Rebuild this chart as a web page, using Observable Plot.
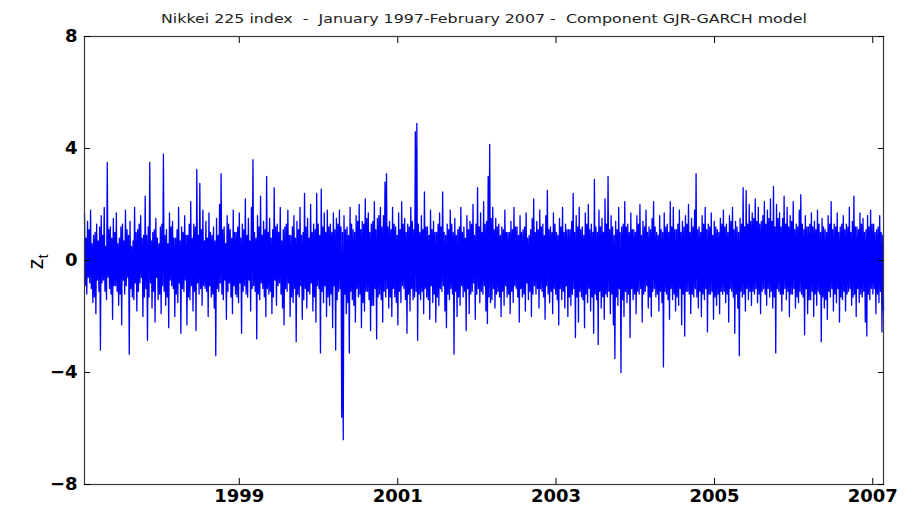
<!DOCTYPE html>
<html>
<head>
<meta charset="utf-8">
<script src="https://cdn.jsdelivr.net/npm/d3@7"></script>
<script src="https://cdn.jsdelivr.net/npm/@observablehq/plot@0.6"></script>
<style>
  html, body { margin: 0; padding: 0; background: #fff; }
  #chart { width: 906px; height: 510px; }
</style>
</head>
<body>
<div id="chart"></div>
<script>
// Title and axis text
const titleText = "Nikkei 225 index  -  January 1997-February 2007 -  Component GJR-GARCH model";
const yLabelMain = "z";
const yLabelSub = "t";

// Standardized residuals z_t: for each week (from mid-January 1997)
// the upper swing (zHigh) and the lower swing (zLow) of the series.
const startDate = "1997-01-17";
const stepDays = 7;
const zHigh = [
  1.7, 0.8, 1.4, 1.1, 1.8, 0.6, 0.9, 1.0, 1.3, 0.7, 1.2, 1.6, 0.9, 1.9, 0.5, 3.5, 1.1, 1.2, 0.8, 1.5,
  1.0, 1.7, 0.6, 0.8, 1.2, 1.3, 0.7, 1.8, 1.1, 0.9, 1.4, 0.5, 0.7, 1.9, 1.0, 1.1, 1.3, 1.6, 0.8, 0.9,
  2.3, 0.9, 1.2, 3.5, 0.7, 1.0, 1.1, 1.5, 0.8, 0.6, 1.2, 1.3, 3.8, 0.9, 1.1, 0.6, 1.7, 1.2, 1.4, 0.8,
  0.8, 1.1, 1.9, 0.7, 1.2, 1.0, 1.6, 0.9, 0.9, 1.3, 2.1, 0.8, 1.3, 1.2, 3.25, 0.9, 2.75, 1.1, 1.8, 0.7,
  1.4, 0.8, 1.7, 1.0, 0.9, 1.2, 0.7, 1.5, 0.9, 2.0, 3.1, 1.1, 1.2, 0.6, 1.6, 1.3, 1.1, 0.8, 1.8, 1.0,
  1.0, 1.2, 1.7, 0.8, 1.3, 1.1, 2.2, 0.9, 1.5, 0.7, 1.9, 3.6, 1.0, 0.8, 1.6, 1.2, 2.3, 0.9, 1.4, 1.1,
  3.0, 1.0, 1.5, 0.8, 1.1, 2.6, 1.2, 1.3, 1.0, 1.9, 0.7, 1.1, 1.2, 1.3, 1.8, 0.9, 0.9, 1.2, 1.6, 0.8,
  1.4, 1.1, 1.9, 0.9, 1.0, 2.4, 1.2, 1.5, 0.8, 2.0, 1.0, 1.3, 1.1, 2.4, 1.3, 0.9, 2.55, 1.2, 1.7, 1.0,
  1.8, 1.2, 1.3, 1.0, 1.7, 1.1, 1.5, 1.3, 1.8, 1.2, 1.0, 1.6, 1.1, 1.2, 0.9, 1.9, 1.3, 1.1, 1.0, 1.6,
  1.4, 2.0, 1.1, 1.4, 1.3, 2.2, 1.5, 1.7, 1.0, 1.3, 1.4, 2.1, 1.1, 1.5, 1.6, 1.9, 1.2, 1.6, 2.8, 3.1,
  1.2, 1.4, 1.1, 1.9, 1.3, 1.2, 0.9, 1.7, 1.1, 2.1, 1.3, 1.5, 1.0, 1.3, 1.2, 1.9, 1.4, 1.1, 4.6, 4.9,
  1.3, 1.0, 1.6, 1.1, 2.45, 1.2, 1.2, 0.9, 1.8, 1.1, 1.4, 1.0, 1.0, 1.3, 1.7, 1.2, 2.45, 1.0, 0.9, 1.3,
  1.1, 1.8, 1.3, 1.0, 1.5, 0.9, 1.1, 1.2, 1.9, 1.0, 1.2, 0.8, 1.6, 1.1, 1.4, 1.3, 2.0, 0.9, 1.3, 2.6,
  1.2, 1.7, 1.0, 2.1, 1.3, 1.4, 3.0, 4.15, 1.5, 1.9, 1.1, 1.5, 1.2, 1.3, 0.9, 1.2, 1.1, 1.8, 1.0, 1.0,
  1.0, 1.4, 1.1, 1.9, 1.2, 1.2, 0.9, 1.6, 1.0, 1.1, 1.2, 1.7, 0.8, 0.9, 1.1, 1.5, 2.2, 1.0, 1.4, 1.1,
  1.8, 1.2, 1.3, 0.9, 1.6, 2.5, 1.1, 1.2, 1.0, 1.7, 1.3, 1.0, 0.9, 1.5, 1.2, 1.9, 1.0, 1.3, 1.1, 1.1,
  1.1, 1.4, 2.4, 1.0, 1.6, 1.2, 1.9, 1.1, 1.2, 0.9, 1.7, 1.3, 2.0, 1.1, 1.3, 1.0, 2.9, 1.2, 1.0, 1.8,
  1.2, 1.5, 1.0, 2.2, 1.3, 3.0, 1.1, 1.6, 1.2, 0.9, 1.4, 1.1, 1.9, 1.0, 1.2, 1.3, 2.1, 1.2, 1.3, 1.0,
  1.7, 1.1, 1.1, 1.0, 1.6, 1.3, 2.0, 0.9, 1.4, 1.2, 1.8, 1.0, 1.2, 1.1, 1.5, 2.1, 1.2, 1.0, 0.9, 1.6,
  1.1, 1.0, 1.7, 1.2, 1.3, 1.0, 2.1, 1.2, 1.9, 1.1, 1.1, 1.3, 1.8, 1.0, 1.4, 1.2, 1.6, 1.3, 2.0, 1.0,
  1.5, 1.2, 1.8, 3.1, 1.1, 1.2, 1.0, 1.6, 1.3, 1.9, 1.1, 1.3, 1.2, 1.7, 0.9, 1.4, 1.2, 1.1, 1.0, 1.5,
  1.3, 1.8, 1.2, 1.3, 1.0, 1.6, 1.4, 1.9, 1.1, 1.4, 1.2, 1.0, 1.5, 1.3, 2.6, 1.2, 2.5, 1.3, 2.0, 1.4,
  1.7, 1.5, 2.2, 1.4, 1.9, 1.3, 1.4, 1.6, 2.1, 1.3, 1.8, 1.5, 2.2, 1.4, 2.65, 1.2, 2.0, 1.5, 1.7, 1.2,
  1.5, 2.3, 1.3, 1.9, 1.2, 1.6, 1.4, 2.1, 1.1, 1.3, 1.2, 1.8, 2.35, 1.3, 1.1, 1.6, 1.2, 1.2, 1.3, 1.7,
  1.2, 1.4, 1.1, 1.8, 1.3, 1.0, 1.5, 1.2, 1.1, 1.0, 1.6, 1.3, 2.1, 1.1, 1.3, 1.2, 1.7, 1.0, 1.2, 1.3,
  1.6, 1.1, 1.3, 1.2, 1.9, 1.0, 1.4, 2.3, 1.2, 1.2, 1.1, 1.7, 1.3, 1.5, 1.0, 1.1, 1.6, 1.2, 1.8, 1.3,
  1.3, 1.0, 1.1, 1.2, 1.6, 1.0, 0.9
];
const zLow = [
  -0.9, -1.2, -0.6, -0.8, -1.0, -1.5, -1.3, -1.9, -0.7, -1.1, -3.2, -0.8, -0.7, -1.1, -1.4, -0.6, -1.0, -1.2, -2.1, -0.9,
  -0.9, -1.1, -1.6, -1.2, -2.3, -0.7, -1.2, -0.9, -0.6, -3.35, -1.0, -1.3, -1.4, -0.8, -1.8, -1.1, -0.8, -0.6, -2.0, -1.3,
  -1.0, -2.85, -1.3, -0.8, -1.7, -1.1, -2.2, -0.6, -1.4, -1.2, -1.9, -0.9, -1.1, -1.6, -1.3, -2.4, -0.7, -0.9, -1.0, -2.0,
  -1.2, -1.5, -0.8, -2.6, -1.0, -1.1, -0.7, -2.3, -1.3, -1.4, -0.9, -1.8, -1.1, -2.5, -0.8, -1.2, -1.0, -1.6, -0.9, -1.0,
  -1.1, -2.0, -0.9, -1.3, -1.2, -1.7, -3.4, -1.0, -1.1, -0.8, -1.2, -1.4, -0.7, -2.1, -1.1, -0.8, -1.3, -1.9, -0.9, -1.2,
  -1.3, -1.5, -0.8, -2.6, -1.1, -0.9, -1.2, -1.3, -0.7, -1.8, -1.0, -0.9, -1.1, -2.8, -1.2, -1.4, -0.8, -1.0, -1.3, -2.0,
  -1.0, -1.2, -1.1, -1.9, -1.3, -0.7, -1.6, -0.9, -0.8, -1.2, -1.7, -2.3, -1.0, -1.1, -0.8, -2.0, -1.3, -1.5, -1.0, -2.9,
  -1.2, -1.3, -0.9, -2.1, -1.4, -1.0, -1.7, -1.1, -1.2, -0.8, -1.8, -1.3, -2.2, -0.9, -1.0, -3.3, -1.1, -1.5, -0.9, -2.0,
  -1.3, -1.6, -1.2, -2.4, -0.9, -3.2, -1.4, -1.1, -1.0, -5.6, -6.4, -1.2, -1.9, -1.5, -3.3, -1.1, -1.4, -1.6, -2.2, -1.0,
  -1.3, -1.2, -2.4, -1.5, -1.8, -1.1, -1.1, -1.4, -2.5, -1.6, -1.6, -1.0, -2.8, -1.3, -1.2, -1.4, -2.2, -1.1, -1.3, -1.0,
  -1.7, -1.3, -2.0, -1.0, -1.3, -1.5, -2.3, -1.1, -1.5, -0.9, -1.0, -1.4, -2.6, -1.2, -1.8, -1.0, -1.4, -1.3, -1.1, -2.85,
  -1.2, -1.4, -1.1, -1.9, -1.0, -1.3, -1.4, -2.1, -0.9, -1.5, -1.2, -2.2, -1.3, -1.6, -1.0, -1.1, -0.9, -1.8, -2.4, -1.2,
  -1.4, -1.0, -1.2, -3.35, -1.1, -2.0, -1.3, -1.6, -0.9, -1.3, -1.1, -2.5, -1.0, -1.9, -1.2, -1.1, -0.8, -2.1, -1.2, -1.0,
  -1.5, -1.1, -1.2, -0.9, -1.8, -2.25, -1.3, -1.5, -1.4, -1.0, -1.7, -1.2, -1.1, -1.3, -2.0, -1.1, -1.6, -0.9, -1.3, -1.2,
  -1.9, -1.1, -1.5, -0.9, -1.0, -1.3, -2.2, -1.0, -1.3, -1.2, -1.8, -0.8, -1.4, -1.1, -2.0, -1.2, -0.9, -1.2, -1.0, -1.7,
  -1.0, -1.1, -1.3, -2.1, -0.9, -1.2, -1.5, -1.1, -1.9, -1.0, -1.2, -1.4, -2.3, -1.0, -1.4, -1.1, -1.7, -0.9, -2.0, -1.3,
  -1.6, -1.2, -1.0, -2.75, -1.3, -2.2, -1.1, -1.3, -1.4, -2.4, -1.2, -1.5, -1.0, -1.8, -1.3, -2.6, -1.2, -1.4, -3.0, -1.1,
  -1.7, -1.3, -2.1, -1.2, -1.3, -1.1, -1.9, -1.2, -2.3, -3.5, -1.3, -1.6, -1.0, -4.0, -1.4, -2.0, -1.1, -1.5, -1.2, -2.75,
  -1.0, -1.4, -1.2, -1.9, -1.1, -1.2, -1.0, -2.2, -1.2, -1.1, -0.9, -1.7, -1.3, -2.0, -1.1, -1.0, -1.3, -1.2, -1.8, -1.1,
  -1.5, -3.8, -1.1, -1.2, -1.4, -2.1, -1.0, -1.4, -1.2, -1.8, -1.3, -1.6, -1.0, -2.3, -1.2, -2.7, -1.1, -1.1, -1.2, -1.9,
  -1.2, -1.3, -1.0, -1.3, -1.7, -1.1, -2.0, -1.2, -1.4, -1.0, -2.55, -1.2, -1.2, -1.1, -2.1, -1.3, -1.6, -1.2, -1.9, -1.1,
  -1.2, -1.1, -1.5, -1.2, -2.2, -1.0, -1.1, -1.3, -2.6, -1.2, -1.7, -3.4, -1.1, -1.3, -1.2, -1.8, -1.0, -1.4, -1.1, -1.6,
  -1.1, -1.2, -1.0, -1.5, -1.2, -1.9, -1.1, -1.0, -1.2, -1.6, -1.0, -1.3, -1.1, -1.7, -1.3, -3.3, -1.0, -1.1, -1.2, -1.8,
  -1.2, -1.0, -1.4, -1.1, -2.0, -1.2, -1.2, -1.0, -1.7, -1.3, -1.5, -1.1, -1.2, -1.3, -2.65, -1.0, -1.9, -1.4, -1.4, -1.1,
  -2.0, -1.2, -1.6, -1.1, -1.2, -2.9, -1.3, -1.7, -1.4, -2.1, -1.1, -1.3, -1.0, -1.8, -1.2, -1.5, -1.0, -2.2, -1.3, -1.4,
  -1.1, -1.8, -1.2, -1.1, -1.0, -1.6, -1.3, -1.2, -2.0, -1.0, -1.5, -1.2, -1.3, -1.1, -2.2, -2.7, -1.2, -1.4, -1.0, -1.2,
  -1.0, -1.9, -1.2, -1.5, -1.1, -2.55, -1.8
];

const yTicks = [-8, -4, 0, 4, 8];
const xTickYears = [1999, 2001, 2003, 2005, 2007];

// Table for the line: each week's upper swing, then its lower swing half a week later
const t0 = new Date(startDate + "T00:00:00Z").getTime();
const dayMs = 864e5;
const data = [];
zHigh.forEach((hi, i) => {
  data.push({date: new Date(t0 + i * stepDays * dayMs), z: hi});
  data.push({date: new Date(t0 + (i * stepDays + stepDays / 2) * dayMs), z: zLow[i]});
});
const xTicks = xTickYears.map(y => new Date(Date.UTC(y, 0, 1)));

const axisColor = "#3a3a3a";
const labelFont = {fontSize: 18, fontWeight: "bold"};

const chart = Plot.plot({
  width: 906,
  height: 510,
  marginLeft: 84,
  marginRight: 23,
  marginTop: 36,
  marginBottom: 26,
  style: {fontFamily: "'DejaVu Sans', sans-serif", background: "#fff", color: "#000", overflow: "visible"},
  x: {type: "utc", domain: [data[0].date, data[data.length - 1].date]},
  y: {domain: [-8, 8]},
  marks: [
    Plot.lineY(data, {x: "date", y: "z", stroke: "#0000ff", strokeWidth: 1.3}),
    Plot.frame({stroke: axisColor, strokeWidth: 1.2}),
    // tick labels
    Plot.axisY(yTicks, {anchor: "left", tickSize: 0, tickPadding: 7, label: null, ...labelFont, fill: "#000"}),
    Plot.axisX(xTicks, {anchor: "bottom", tickSize: 0, tickPadding: 5, label: null, tickFormat: d3.utcFormat("%Y"), ...labelFont, fill: "#000"}),
    // inward ticks on all four sides
    Plot.axisY(yTicks, {anchor: "left", tickSize: 6, dx: 6, text: null, label: null, stroke: "#000"}),
    Plot.axisY(yTicks, {anchor: "right", tickSize: 6, dx: -6, text: null, label: null, stroke: "#000"}),
    Plot.axisX(xTicks, {anchor: "bottom", tickSize: 6, dy: -6, text: null, label: null, stroke: "#000"}),
    Plot.axisX(xTicks, {anchor: "top", tickSize: 6, dy: 6, text: null, label: null, stroke: "#000"}),
    // title
    Plot.text([titleText], {frameAnchor: "top", dy: -18, fontSize: 13, fill: "#222", lineAnchor: "middle"})
  ]
});

const svg = d3.select(chart);
svg.selectAll("text").style("white-space", "pre");
// stretch title to match reference width
svg.selectAll("g[aria-label='text'] text")
  .attr("textLength", 646)
  .attr("lengthAdjust", "spacingAndGlyphs");

// y-axis label z_t (rotated, with subscript)
const yl = svg.append("text")
  .attr("transform", "translate(43,262) rotate(-90)")
  .attr("text-anchor", "middle")
  .attr("font-family", "'Liberation Sans', Arial, sans-serif")
  .attr("fill", "#000");
yl.append("tspan").attr("font-size", 22).text(yLabelMain);
yl.append("tspan").attr("font-size", 15).attr("dy", 5).text(yLabelSub);

document.getElementById("chart").appendChild(chart);
</script>
</body>
</html>
